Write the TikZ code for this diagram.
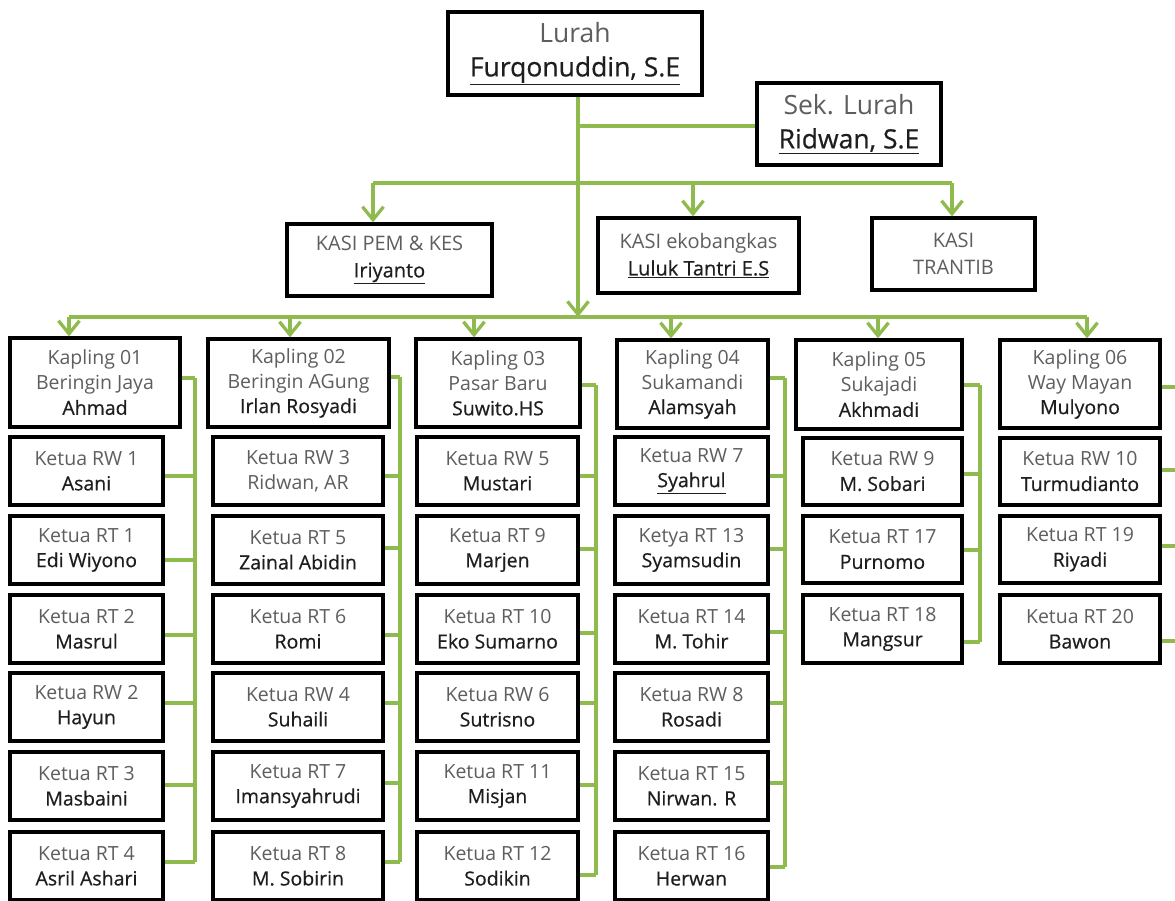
\documentclass[tikz,border=0pt]{standalone}
\usepackage{fontspec}
\setmainfont{Open Sans}
\newfontfamily\nmfont[FakeBold=0.5]{Open Sans}
\usetikzlibrary{arrows.meta}
\definecolor{grn}{HTML}{8FBA4E}
\definecolor{ttl}{HTML}{5E5E5E}
\definecolor{nm}{HTML}{1E1E1E}
\newcommand\ti[1]{\textcolor{ttl}{#1}}
\newcommand\nm[1]{{\nmfont\textcolor{nm}{#1}}}
\newcommand\two[2]{\ti{#1}\\\nm{#2}}
\newcommand\bx[7][box]{\node[#1, minimum width={#5-#3}, minimum height={#6-#4}] (#2) at ({(#3+#5)/2},{(#4+#6)/2}) {#7};}
\newcommand\stub[3]{\draw[ln] (#1.east |- 0,#2) -- (#3,#2);}
\tikzset{
  box/.style={draw=black, line width=3.3pt, fill=white, inner sep=0pt, align=center, font=\fontsize{19.5}{25}\selectfont},
  big/.style={box, font=\fontsize{26.5}{34}\selectfont},
  kasi/.style={box, font=\fontsize{20}{27}\selectfont},
  ln/.style={draw=grn, line width=3.3pt},
  arr/.style={ln, -{Straight Barb[length=13pt,width=21pt]}}
}
\begin{document}
\begin{tikzpicture}[x=1pt,y=-1pt]
\useasboundingbox (0,0) rectangle (1175,900);
\fill[white] (0,0) rectangle (1175,900);
\clip (0,0) rectangle (1175,900);
% top
\bx[big]{lurah}{448}{12}{702}{95}{\ti{Lurah}\\\nm{\underline{Furqonuddin, S.E}}}
\bx[big]{sek}{757}{83}{941}{165}{\ti{Sek. Lurah}\\\nm{\underline{Ridwan, S.E}}}
\bx[kasi]{kpem}{287}{224}{492}{296}{\ti{KASI PEM \& KES}\\\nm{\underline{Iriyanto}}}
\bx[kasi]{keko}{598}{218}{799}{293}{\ti{KASI ekobangkas}\\\nm{\underline{Luluk Tantri E.S}}}
\bx[kasi]{ktrt}{872}{218}{1035}{290}{\ti{KASI}\\\ti{TRANTIB}}
% kapling
\bx{k1}{10}{338}{180}{427}{\ti{Kapling 01}\\\ti{Beringin Jaya}\\\nm{Ahmad}}
\bx{k2}{208}{339}{389}{427}{\ti{Kapling 02}\\\ti{Beringin AGung}\\\nm{Irlan Rosyadi}}
\bx{k3}{416}{339}{580}{427}{\ti{Kapling 03}\\\ti{Pasar Baru}\\\nm{Suwito.HS}}
\bx{k4}{617}{340}{768}{428}{\ti{Kapling 04}\\\ti{Sukamandi}\\\nm{Alamsyah}}
\bx{k5}{796}{340}{962}{429}{\ti{Kapling 05}\\\ti{Sukajadi}\\\nm{Akhmadi}}
\bx{k6}{1000}{340}{1160}{428}{\ti{Kapling 06}\\\ti{Way Mayan}\\\nm{Mulyono}}
% column 1
\bx{a1}{10}{437}{163}{505}{\two{Ketua RW 1}{Asani}}
\bx{a2}{10}{516}{163}{584}{\two{Ketua RT 1}{Edi Wiyono}}
\bx{a3}{10}{595}{163}{663}{\two{Ketua RT 2}{Masrul}}
\bx{a4}{10}{673}{163}{741}{\two{Ketua RW 2}{Hayun}}
\bx{a5}{10}{752}{163}{820}{\two{Ketua RT 3}{Masbaini}}
\bx{a6}{10}{832}{163}{900}{\two{Ketua RT 4}{Asril Ashari}}
% column 2
\bx{b1}{213}{437}{383}{505}{\ti{Ketua RW 3}\\\ti{Ridwan, AR}}
\bx{b2}{213}{516}{383}{584}{\two{Ketua RT 5}{Zainal Abidin}}
\bx{b3}{213}{595}{383}{663}{\two{Ketua RT 6}{Romi}}
\bx{b4}{213}{673}{383}{741}{\two{Ketua RW 4}{Suhaili}}
\bx{b5}{213}{752}{383}{820}{\two{Ketua RT 7}{Imansyahrudi}}
\bx{b6}{213}{832}{383}{900}{\two{Ketua RT 8}{M. Sobirin}}
% column 3
\bx{c1}{417}{437}{578}{505}{\two{Ketua RW 5}{Mustari}}
\bx{c2}{417}{516}{578}{584}{\two{Ketua RT 9}{Marjen}}
\bx{c3}{417}{595}{578}{663}{\two{Ketua RT 10}{Eko Sumarno}}
\bx{c4}{417}{673}{578}{741}{\two{Ketua RW 6}{Sutrisno}}
\bx{c5}{417}{752}{578}{820}{\two{Ketua RT 11}{Misjan}}
\bx{c6}{417}{832}{578}{900}{\two{Ketua RT 12}{Sodikin}}
% column 4
\bx{d1}{615}{437}{768}{505}{\two{Ketua RW 7}{\underline{Syahrul}}}
\bx{d2}{615}{516}{768}{584}{\two{Ketya RT 13}{Syamsudin}}
\bx{d3}{615}{595}{768}{663}{\two{Ketua RT 14}{M. Tohir}}
\bx{d4}{615}{673}{768}{741}{\two{Ketua RW 8}{Rosadi}}
\bx{d5}{615}{752}{768}{820}{\two{Ketua RT 15}{Nirwan. R}}
\bx{d6}{615}{832}{768}{900}{\two{Ketua RT 16}{Herwan}}
% column 5
\bx{e1}{803}{438}{962}{505}{\two{Ketua RW 9}{M. Sobari}}
\bx{e2}{803}{516}{962}{583}{\two{Ketua RT 17}{Purnomo}}
\bx{e3}{803}{595}{962}{663}{\two{Ketua RT 18}{Mangsur}}
% column 6
\bx{f1}{1000}{438}{1160}{505}{\two{Ketua RW 10}{Turmudianto}}
\bx{f2}{1000}{516}{1160}{583}{\two{Ketua RT 19}{Riyadi}}
\bx{f3}{1000}{595}{1160}{663}{\two{Ketua RT 20}{Bawon}}
% connectors top
\coordinate (tr) at (578,95);
\coordinate (sb) at (578,126);
\coordinate (kb) at (578,317);
\coordinate (ka) at (373,183);
\coordinate (kc) at (693,183);
\coordinate (kd) at (952,183);
\draw[ln] (sb) -- (sb -| sek.west);
\draw[ln] (ka) -- (kd);
\draw[arr] (ka) -- (ka |- kpem.north);
\draw[arr] (kc) -- (kc |- keko.north);
\draw[arr] (kd) -- (kd |- ktrt.north);
\draw[arr] (tr |- lurah.south) -- (kb);
% kapling bar
\coordinate (p1) at (69,317);
\coordinate (p2) at (290,317);
\coordinate (p3) at (474,317);
\coordinate (p4) at (671,317);
\coordinate (p5) at (878,317);
\coordinate (p6) at (1087,317);
\draw[ln] (p1) -- (p6);
\foreach \i in {1,...,6}{\draw[arr] (p\i) -- (p\i |- k\i.north);}
% brackets
\draw[ln] (195,378) -- (195,862);
\stub{k1}{378}{195}\stub{a1}{476}{195}\stub{a2}{560}{195}\stub{a3}{635}{195}\stub{a4}{703}{195}\stub{a5}{785}{195}\stub{a6}{862}{195}
\draw[ln] (400,377) -- (400,862);
\stub{k2}{377}{400}\stub{b1}{476}{400}\stub{b2}{548}{400}\stub{b3}{635}{400}\stub{b4}{703}{400}\stub{b5}{783}{400}\stub{b6}{862}{400}
\draw[ln] (596,385) -- (596,875);
\stub{k3}{385}{596}\stub{c1}{476}{596}\stub{c2}{549}{596}\stub{c3}{633}{596}\stub{c4}{703}{596}\stub{c5}{785}{596}\stub{c6}{875}{596}
\draw[ln] (785,378) -- (785,867);
\stub{k4}{378}{785}\stub{d1}{476}{785}\stub{d2}{549}{785}\stub{d3}{632}{785}\stub{d4}{703}{785}\stub{d5}{783}{785}\stub{d6}{867}{785}
\draw[ln] (980,385) -- (980,642);
\stub{k5}{385}{980}\stub{e1}{474}{980}\stub{e2}{550}{980}\stub{e3}{642}{980}
\draw[ln] (1185,387) -- (1185,641);
\stub{k6}{387}{1185}\stub{f1}{470}{1185}\stub{f2}{546}{1185}\stub{f3}{641}{1185}
\end{tikzpicture}
\end{document}
